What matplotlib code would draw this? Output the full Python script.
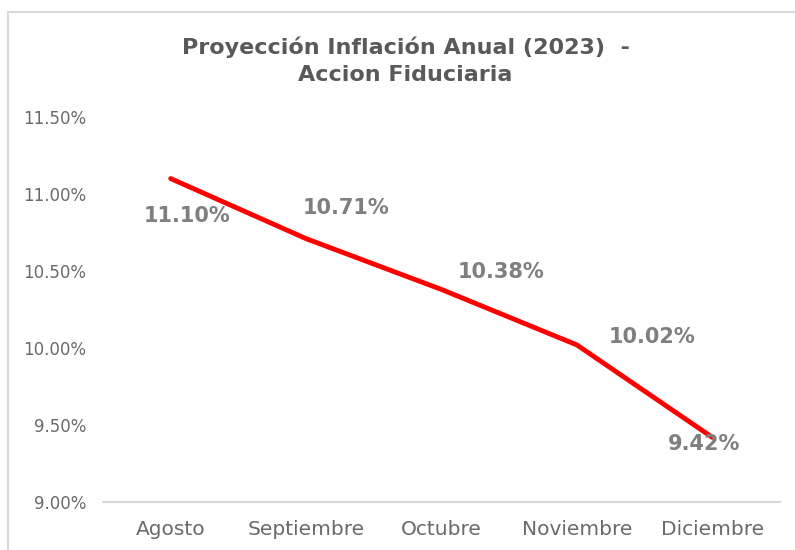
import matplotlib.pyplot as plt
from matplotlib.lines import Line2D
from matplotlib.ticker import FuncFormatter

meses = ['Agosto', 'Septiembre', 'Octubre', 'Noviembre', 'Diciembre']
inflacion = [11.10, 10.71, 10.38, 10.02, 9.42]

# label offsets in pixels (dx, dy) relative to each point
offsets = [(16, -37), (40, 31), (60, 17), (75, 8), (-8, -7)]

plt.rcParams['font.family'] = ['DejaVu Sans']

fig = plt.figure(figsize=(7.95, 5.5), dpi=100)
ax = fig.add_axes([0.1296, 0.0873, 0.8514, 0.70])

x = range(len(meses))
ax.plot(x, inflacion, color='#ff0000', lw=3.5, solid_capstyle='round')

for i, v in enumerate(inflacion):
    dx, dy = offsets[i]
    ax.annotate(f'{v:.2f}%', (i, v), xytext=(dx, dy), textcoords='offset pixels',
                ha='center', va='center', fontsize=15, fontweight='bold', color='#7f7f7f')

ax.set_xlim(-0.5, len(meses) - 0.5)
ax.set_ylim(9.0, 11.5)
ax.set_yticks([9.0, 9.5, 10.0, 10.5, 11.0, 11.5])
ax.yaxis.set_major_formatter(FuncFormatter(lambda v, p: f'{v:.2f}%'))
ax.set_xticks(list(x))
ax.set_xticklabels(meses)
ax.tick_params(axis='both', length=0, colors='#6a6a6a')
ax.tick_params(axis='y', pad=12, labelsize=12)
ax.tick_params(axis='x', pad=13, labelsize=14.5)

for s in ['top', 'right', 'left']:
    ax.spines[s].set_visible(False)
ax.spines['bottom'].set_color('#d9d9d9')
ax.spines['bottom'].set_linewidth(1.5)

fig.text(0.51, 0.889, 'Proyección Inflación Anual (2023)  -\nAccion Fiduciaria',
         ha='center', va='center', fontsize=16, fontweight='bold', color='#595959',
         linespacing=1.45)

# chart frame (top and left edges visible in the crop)
fig.add_artist(Line2D([8 / 795, 1.0], [1 - 12 / 550, 1 - 12 / 550],
                      transform=fig.transFigure, color='#d9d9d9', lw=1.5))
fig.add_artist(Line2D([8 / 795, 8 / 795], [0, 1 - 12 / 550],
                      transform=fig.transFigure, color='#d9d9d9', lw=1.5))

fig.savefig('out.png', dpi=100)
